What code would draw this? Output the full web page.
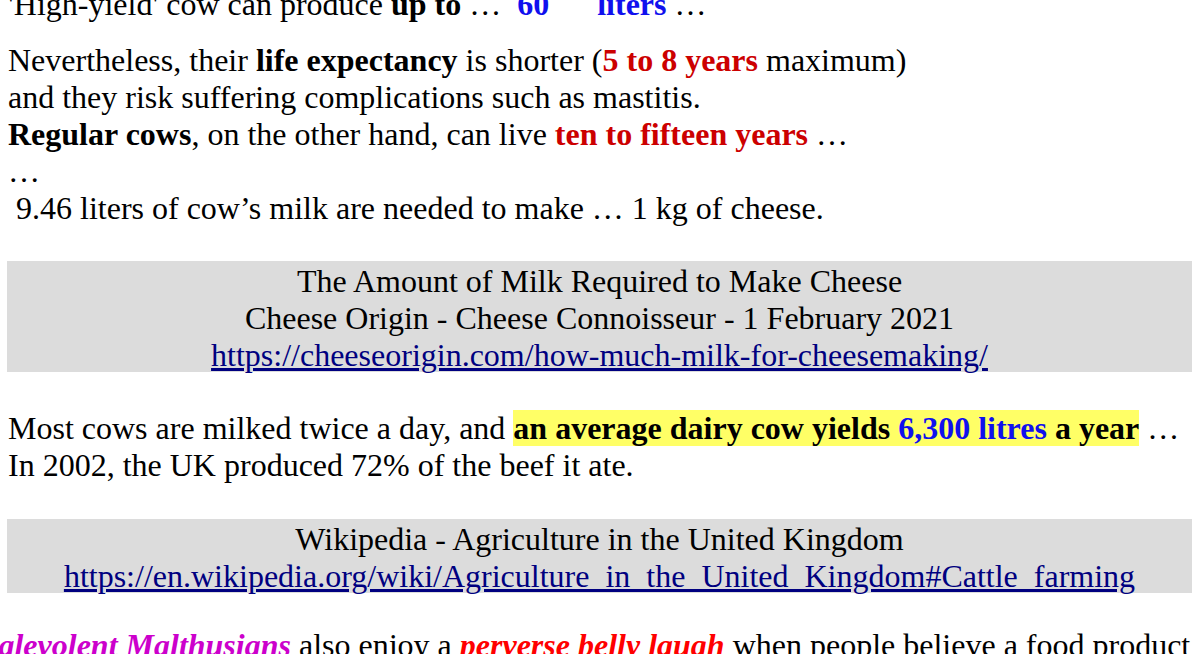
<!DOCTYPE html>
<html>
<head>
<meta charset="utf-8">
<script src="https://cdn.jsdelivr.net/npm/chart.js@4"></script>
<style>
  html, body { margin: 0; padding: 0; background: #fff; overflow: hidden; }
  body { width: 1192px; height: 654px; position: relative;
         font-family: "Liberation Serif", "Times New Roman", serif; font-size: 32px; color: #000; }
  .ln { position: absolute; left: 8px; line-height: 37px; height: 37px; white-space: pre; }
  .box { position: absolute; left: 7px; right: 0; background: #dcdcdc; text-align: center; }
  .box div { line-height: 37px; height: 37px; white-space: pre; }
  a { color: #000080; text-decoration: underline; }
  .blue { color: #1010ee; font-weight: bold; }
  .red { color: #cc0000; font-weight: bold; }
  .hl { background: #ffff66; font-weight: bold; }
  .mag { color: #cc00cc; font-weight: bold; font-style: italic; }
  .rit { color: #ff0000; font-weight: bold; font-style: italic; }
</style>
</head>
<body>
<div class="ln" style="top:-14px">'High-yield' cow can produce <b>up to</b> …  <span class="blue">60      liters</span> …</div>
<div class="ln" style="top:42px">Nevertheless, their <b>life expectancy</b> is shorter (<span class="red">5 to 8 years</span> maximum)</div>
<div class="ln" style="top:79px">and they risk suffering complications such as mastitis.</div>
<div class="ln" style="top:116px"><b>Regular cows</b>, on the other hand, can live <span class="red">ten to fifteen years</span> …</div>
<div class="ln" style="top:153px">…</div>
<div class="ln" style="top:190px"> 9.46 liters of cow’s milk are needed to make … 1 kg of cheese.</div>

<div class="box" style="top:261px; height:111px; padding-top:2px; box-sizing:border-box;">
  <div>The Amount of Milk Required to Make Cheese</div>
  <div>Cheese Origin - Cheese Connoisseur - 1 February 2021</div>
  <div><a href="#">https://cheeseorigin.com/how-much-milk-for-cheesemaking/</a></div>
</div>

<div class="ln" style="top:410px">Most cows are milked twice a day, and <span class="hl">an average dairy cow yields <span style="color:#1010ee">6,300 litres</span> a year</span> …</div>
<div class="ln" style="top:447px">In 2002, the UK produced 72% of the beef it ate.</div>

<div class="box" style="top:519px; height:74px; padding-top:2px; box-sizing:border-box;">
  <div>Wikipedia - Agriculture in the United Kingdom</div>
  <div><a href="#">https://en.wikipedia.org/wiki/Agriculture_in_the_United_Kingdom#Cattle_farming</a></div>
</div>

<div class="ln" style="top:627px; left:-30px"><span class="mag">Malevolent Malthusians</span> also enjoy a <span class="rit">perverse belly laugh</span> when people believe a food product</div>
</body>
</html>
